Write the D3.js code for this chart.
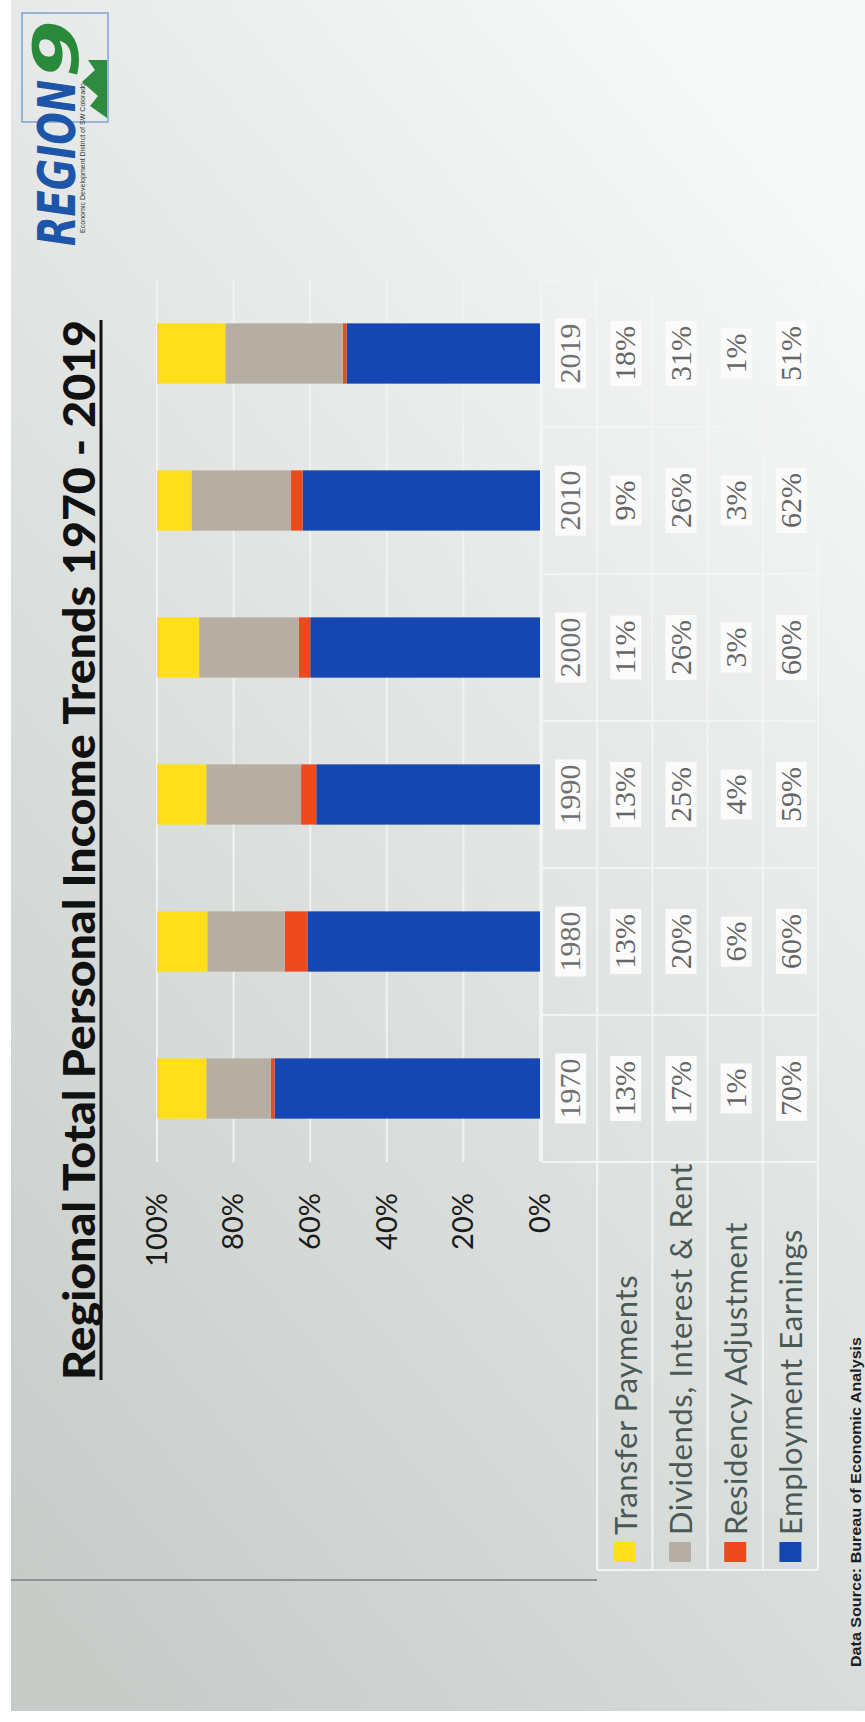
<!DOCTYPE html>
<html><head><meta charset="utf-8">
<script src="https://cdn.jsdelivr.net/npm/d3@7"></script>
<style>html,body{margin:0;padding:0;background:#fff;} svg{display:block;}</style>
</head><body>
<svg id="chart" width="865" height="1722"></svg>
<script>
// ---- data ----
const years = ["1970", "1980", "1990", "2000", "2010", "2019"];
const seriesKeys = ["transfer", "dividends", "residency", "employment"];
const seriesLabels = ["Transfer Payments", "Dividends, Interest & Rent", "Residency Adjustment", "Employment Earnings"];
const transfer = [13, 13, 13, 11, 9, 18];
const dividends = [17, 20, 25, 26, 26, 31];
const residency = [1, 6, 4, 3, 3, 1];
const employment = [70, 60, 59, 60, 62, 51];
const seriesColors = ["#ffdf1c", "#b6aea2", "#ec4a1d", "#1546b2"];
const valueTicks = [0, 0.2, 0.4, 0.6, 0.8, 1];
const titleText = "Regional Total Personal Income Trends 1970 - 2019";
const sourceText = "Data Source: Bureau of Economic Analysis";
const logoWord = "REGION";
const logoDigit = "9";
const logoSub = "Economic Development District of SW Colorado";

// ---- page ----
const W = 865, H = 1722;
const svg = d3.select("#chart");
const defs = svg.append("defs");
const lg = defs.append("linearGradient").attr("id", "bg")
  .attr("x1", "0.75").attr("y1", "0").attr("x2", "0.15").attr("y2", "1");
lg.append("stop").attr("offset", "0").attr("stop-color", "#f7f9f9");
lg.append("stop").attr("offset", "0.3").attr("stop-color", "#e8ebe9");
lg.append("stop").attr("offset", "1").attr("stop-color", "#c7ccc9");
svg.append("rect").attr("width", W).attr("height", H).attr("fill", "#ffffff");
svg.append("rect").attr("x", 11).attr("y", 0).attr("width", W - 11).attr("height", 1711).attr("fill", "url(#bg)");
svg.append("line").attr("x1", 11).attr("x2", 597).attr("y1", 1580).attr("y2", 1580)
  .attr("stroke", "#8d9491").attr("stroke-width", 2);

// rotated slide frame: local width = H, local height = W
const g = svg.append("g").attr("transform", `translate(0,${H}) rotate(-90)`);

const colorOf = {};
seriesKeys.forEach((k, i) => colorOf[k] = seriesColors[i]);
const data = years.map((yr, i) => ({
  year: yr, transfer: transfer[i], dividends: dividends[i],
  residency: residency[i], employment: employment[i]
}));

const x = d3.scaleBand().domain(years).range([560, 1442]).paddingInner(0.59).paddingOuter(0.295);
const y = d3.scaleLinear().domain([0, 1]).range([540, 157]);

// gridlines
g.append("g").selectAll("line").data(valueTicks).join("line")
  .attr("x1", 560).attr("x2", 1442)
  .attr("y1", d => y(d)).attr("y2", d => y(d))
  .attr("stroke", "#f1f3f2").attr("stroke-width", 2);

// value axis
const yAxis = d3.axisLeft(y).tickValues(valueTicks).tickFormat(d3.format(".0%"))
  .tickSize(0).tickPadding(31);
const ya = g.append("g").attr("transform", "translate(560,0)").call(yAxis);
ya.select(".domain").remove();
ya.selectAll("text").attr("font-family", "Lato").attr("font-size", 29).attr("fill", "#1b1b1b");

// stacked bars (100%)
const stackOrder = ["employment", "residency", "dividends", "transfer"];
const stacked = d3.stack().keys(stackOrder).offset(d3.stackOffsetExpand)(data);
g.append("g").selectAll("g").data(stacked).join("g")
  .attr("fill", s => colorOf[s.key])
  .selectAll("rect").data(s => s).join("rect")
  .attr("x", d => x(d.data.year)).attr("width", x.bandwidth())
  .attr("y", d => y(d[1])).attr("height", d => y(d[0]) - y(d[1]));

// data table
const rowIds = ["year"].concat(seriesKeys);
const r = d3.scaleBand().domain(rowIds).range([542, 818]);
const legendLeft = 152;
const lineCol = "#f3f5f4";
const tbl = g.append("g");
const colEdges = years.map(yr => x(yr) + x.bandwidth() / 2 - x.step() / 2).concat([1442]);
tbl.selectAll("line.v").data(colEdges).join("line").attr("class", "v")
  .attr("x1", d => d).attr("x2", d => d).attr("y1", 542).attr("y2", 818)
  .attr("stroke", lineCol).attr("stroke-width", 2);
tbl.append("line").attr("x1", legendLeft).attr("x2", legendLeft).attr("y1", r("transfer")).attr("y2", 818)
  .attr("stroke", lineCol).attr("stroke-width", 2);
const rowEdges = rowIds.map(id => r(id)).concat([818]);
tbl.selectAll("line.h").data(rowEdges).join("line").attr("class", "h")
  .attr("x1", (d, i) => i === 0 ? 560 : legendLeft).attr("x2", 1442)
  .attr("y1", d => d).attr("y2", d => d)
  .attr("stroke", lineCol).attr("stroke-width", 2);

const cells = [];
years.forEach((yr, i) => {
  cells.push({ col: yr, row: "year", label: yr });
  seriesKeys.forEach(k => cells.push({ col: yr, row: k, label: data[i][k] + "%" }));
});
const cellG = tbl.selectAll("g.cell").data(cells).join("g").attr("class", "cell");
cellG.append("rect").attr("fill", "#fbfbfb");
cellG.append("text")
  .attr("x", d => x(d.col) + x.bandwidth() / 2)
  .attr("y", d => r(d.row) + r.bandwidth() / 2)
  .attr("text-anchor", "middle").attr("dominant-baseline", "central")
  .attr("font-family", "Liberation Serif").attr("font-size", 30)
  .attr("fill", d => d.row === "year" ? "#707070" : "#666666")
  .text(d => d.label);
cellG.each(function () {
  const t = d3.select(this).select("text").node().getBBox();
  d3.select(this).select("rect").attr("x", t.x - 5).attr("y", t.y + 2)
    .attr("width", t.width + 10).attr("height", t.height - 2);
});

// legend column
const leg = tbl.selectAll("g.leg").data(seriesKeys).join("g").attr("class", "leg");
leg.append("rect").attr("x", 160).attr("width", 20)
  .attr("y", d => r(d) + r.bandwidth() / 2 - 11).attr("height", 22)
  .attr("fill", d => colorOf[d]);
leg.append("text").attr("x", 187).attr("y", d => r(d) + r.bandwidth() / 2)
  .attr("dominant-baseline", "central")
  .attr("font-family", "Lato").attr("font-size", 31).attr("letter-spacing", 0.6)
  .attr("fill", "#4b5956")
  .text((d, i) => seriesLabels[i]);

// title
g.append("text").attr("x", 342).attr("y", 95)
  .attr("font-family", "Lato").attr("font-weight", 900).attr("font-size", 43)
  .attr("textLength", 1060).attr("lengthAdjust", "spacingAndGlyphs")
  .attr("fill", "#111111").text(titleText);
g.append("line").attr("x1", 342).attr("x2", 1402).attr("y1", 101).attr("y2", 101)
  .attr("stroke", "#111111").attr("stroke-width", 3);

// source
g.append("text").attr("x", 55).attr("y", 861)
  .attr("font-family", "Liberation Sans").attr("font-weight", 700).attr("font-size", 15)
  .attr("textLength", 330).attr("lengthAdjust", "spacingAndGlyphs")
  .attr("fill", "#1a1f2a").text(sourceText);

// logo
const logo = g.append("g");
logo.append("rect").attr("x", 1600).attr("y", 22).attr("width", 109).attr("height", 86)
  .attr("fill", "none").attr("stroke", "#7fa2cf").attr("stroke-width", 1.5);
logo.append("text").attr("x", 1476).attr("y", 75)
  .attr("font-family", "DejaVu Sans").attr("font-weight", 700).attr("font-style", "italic")
  .attr("font-size", 52).attr("textLength", 166).attr("lengthAdjust", "spacingAndGlyphs")
  .attr("fill", "#1d55a8").text(logoWord);
logo.append("text").attr("x", 1644).attr("y", 78)
  .attr("font-family", "DejaVu Sans").attr("font-weight", 700).attr("font-style", "italic")
  .attr("font-size", 62).attr("textLength", 58).attr("lengthAdjust", "spacingAndGlyphs")
  .attr("fill", "#2a8a3c").text(logoDigit);
logo.append("text").attr("x", 1489).attr("y", 85)
  .attr("font-family", "Liberation Sans").attr("font-size", 6.5)
  .attr("textLength", 150).attr("lengthAdjust", "spacingAndGlyphs")
  .attr("fill", "#2f3a40").text(logoSub);
logo.append("path").attr("d", "M1604,107 L1616,90 L1626,98 L1640,82 L1652,95 L1662,88 L1662,107 Z")
  .attr("fill", "#2e8b3f");
</script>
</body></html>
